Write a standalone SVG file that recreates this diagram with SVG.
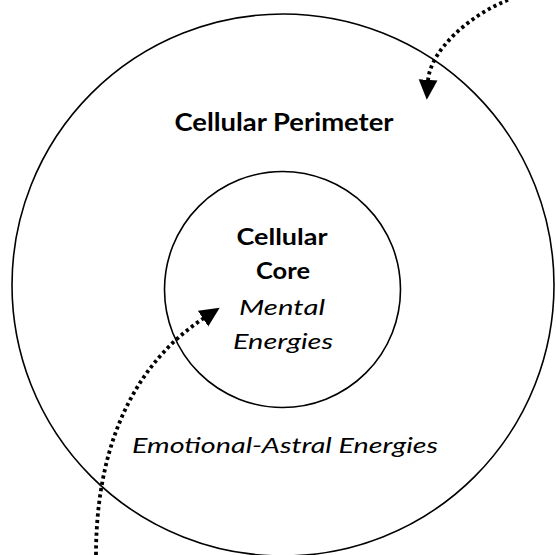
<svg xmlns="http://www.w3.org/2000/svg" width="556" height="555" viewBox="0 0 556 555">
<style>
.ring{fill:none;stroke:#000;stroke-width:1.6}
.t{font-family:Lato,"Open Sans","Liberation Sans",sans-serif;fill:#000;text-anchor:middle}
.b{font-weight:bold;font-size:23px}
.i{font-style:italic;font-size:21px}
.flow{fill:none;stroke:#000;stroke-width:3.8;stroke-dasharray:3.2 3.2;marker-end:url(#ah)}
</style>
<defs>
<marker id="ah" markerUnits="userSpaceOnUse" markerWidth="20" markerHeight="20" refX="1" refY="8" orient="auto" viewBox="0 0 17 16">
<path d="M0 0 L17 8 L0 16 Z" fill="#000"/>
</marker>
</defs>
<rect width="556" height="555" fill="#fff"/>
<g id="perimeter">
<circle class="ring" cx="283" cy="285" r="271"/>
<text class="t b" x="284" y="131" style="font-size:24px" textLength="219" lengthAdjust="spacingAndGlyphs">Cellular Perimeter</text>
<text class="t i" x="285" y="453" style="font-size:20.5px" textLength="306" lengthAdjust="spacingAndGlyphs">Emotional-Astral Energies</text>
</g>
<g id="core">
<circle class="ring" cx="282.5" cy="289.5" r="118"/>
<text class="t b" x="282" y="245" textLength="91" lengthAdjust="spacingAndGlyphs">Cellular</text>
<text class="t b" x="283" y="279" textLength="54" lengthAdjust="spacingAndGlyphs">Core</text>
<text class="t i" x="282" y="315" textLength="86" lengthAdjust="spacingAndGlyphs">Mental</text>
<text class="t i" x="283" y="349" textLength="100" lengthAdjust="spacingAndGlyphs">Energies</text>
</g>
<g id="connectors">
<path class="flow" d="M96 555 C96 460 125 370 204 318"/>
<path class="flow" d="M508 0 C470 15 430 50 428 81"/>
</g>
</svg>
